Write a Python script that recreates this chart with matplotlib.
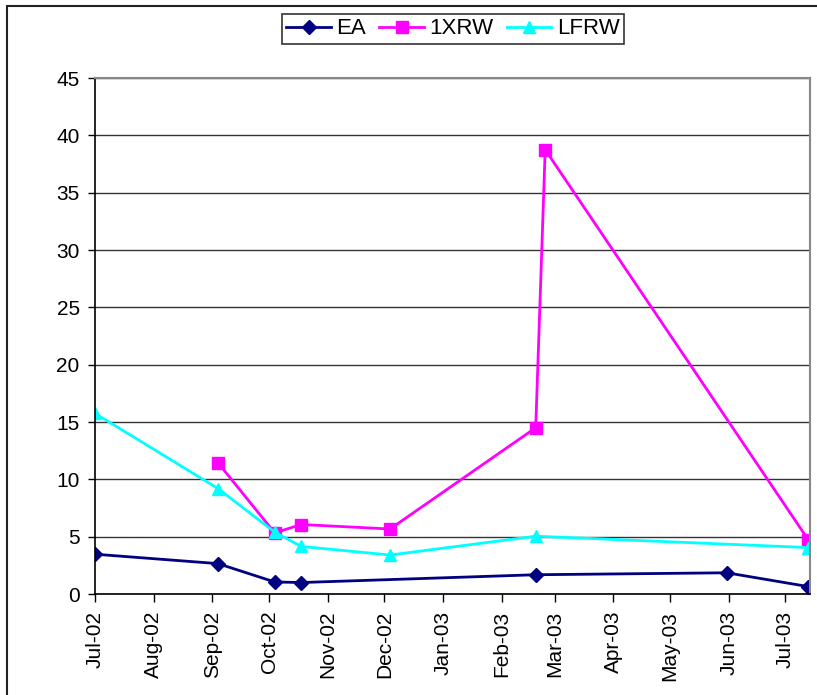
import datetime as dt
import matplotlib
matplotlib.use("Agg")
from matplotlib import pyplot as plt
from matplotlib import dates as mdates
from matplotlib.patches import Rectangle

plt.rcParams['font.family'] = ['Liberation Sans', 'DejaVu Sans']

# dados
datasEA = ["2002-07-01", "2002-09-04", "2002-10-04", "2002-10-18", "2003-02-19", "2003-05-31", "2003-07-13"]
valoresEA = [3.47, 2.65, 1.05, 1.0, 1.68, 1.85, 0.65]

datas1XRW = ["2002-09-04", "2002-10-04", "2002-10-18", "2002-12-04", "2003-02-19", "2003-02-24", "2003-07-13"]
valores1XRW = [11.45, 5.33, 6.06, 5.67, 14.5, 38.75, 4.75]

datasLFRW = ["2002-07-01", "2002-09-04", "2002-10-04", "2002-10-18", "2002-12-04", "2003-02-19", "2003-07-13"]
valoresLFRW = [15.75, 9.2, 5.4, 4.15, 3.4, 5.04, 4.05]

def paraData(lista):
    return [dt.datetime.strptime(d, "%Y-%m-%d") for d in lista]

W, H = 817, 695
fig = plt.figure(figsize=(W / 100, H / 100), dpi=100)

# borda externa do grafico
fig.patches.append(Rectangle((7 / W, -0.05), 1.2, (H - 6) / H + 0.05,
                             transform=fig.transFigure, fill=False,
                             edgecolor="#222222", linewidth=1.5))

ax = fig.add_axes([95 / W, (H - 594) / H, (810 - 95) / W, (594 - 78) / H])

ax.plot(paraData(datasEA), valoresEA, color="#000080", lw=2,
        marker="D", markersize=7, label="EA")
ax.plot(paraData(datas1XRW), valores1XRW, color="#FF00FF", lw=2,
        marker="s", markersize=8, label="1XRW")
ax.plot(paraData(datasLFRW), valoresLFRW, color="#00FFFF", lw=2,
        marker="^", markersize=9, label="LFRW")

ax.set_ylim(0, 45)
ax.set_yticks(range(0, 50, 5))
ax.set_xlim(dt.datetime(2002, 7, 1), dt.datetime(2003, 7, 14))
ax.xaxis.set_major_locator(mdates.MonthLocator())
ax.xaxis.set_major_formatter(mdates.DateFormatter("%b-%y"))
ax.tick_params(axis="x", rotation=90, labelsize=15, length=6, width=1, pad=6)
ax.tick_params(axis="y", labelsize=15, length=5, width=1, pad=6)

ax.grid(axis="y", color="#333333", lw=1)
ax.set_axisbelow(True)
for lado in ["top", "right"]:
    ax.spines[lado].set_color("#888888")
    ax.spines[lado].set_linewidth(1.5)
for lado in ["left", "bottom"]:
    ax.spines[lado].set_color("black")
    ax.spines[lado].set_linewidth(1.2)

leg = fig.legend(loc="center", bbox_to_anchor=(453 / W, 1 - 29 / H), ncol=3,
                 fontsize=16, frameon=True, fancybox=False, edgecolor="black",
                 handlelength=2.0, handletextpad=0.25, columnspacing=0.6,
                 borderpad=0.2, borderaxespad=0)
leg.get_frame().set_linewidth(1.2)

fig.savefig("out.png", dpi=100)
